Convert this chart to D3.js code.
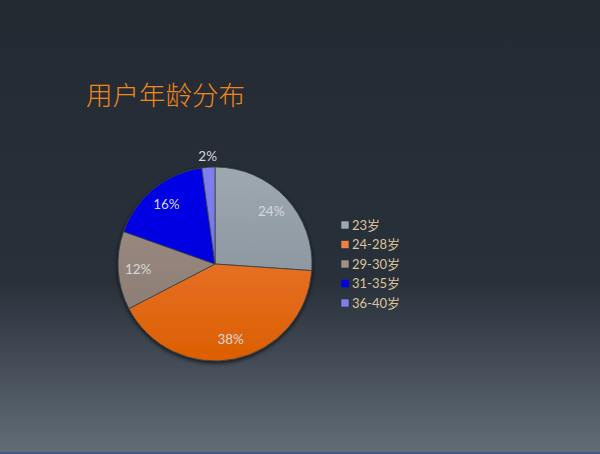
<!DOCTYPE html>
<html>
<head>
<meta charset="utf-8">
<script src="https://cdn.jsdelivr.net/npm/d3@7"></script>
<style>
  html, body { margin: 0; padding: 0; background: #232a32; }
  svg { display: block; }
</style>
</head>
<body>
<svg id="chart" width="600" height="454"></svg>
<script>
// data
var title = "用户年龄分布";
var categories = ["23岁", "24-28岁", "29-30岁", "31-35岁", "36-40岁"];
var values = [24, 38, 12, 16, 2];
var colorsTop = ["#9ea8b1", "#ef8048", "#a09086", "#0000e6", "#7f7fee"];
var colorsBottom = ["#7e8a94", "#dc5f00", "#877870", "#0000d8", "#6c6ce0"];

var svg = d3.select("#chart"),
    width = 600,
    height = 454;

var defs = svg.append("defs");

// background gradient: flat dark top, lightening from about two thirds down
var bg = defs.append("linearGradient")
    .attr("id", "bg")
    .attr("x1", 0).attr("y1", 0).attr("x2", 0).attr("y2", 1);
bg.append("stop").attr("offset", "0%").attr("stop-color", "#232a32");
bg.append("stop").attr("offset", "62%").attr("stop-color", "#28303a");
bg.append("stop").attr("offset", "100%").attr("stop-color", "#636d77");

svg.append("rect")
    .attr("width", width)
    .attr("height", height)
    .attr("fill", "url(#bg)");

svg.append("rect")
    .attr("x", 0).attr("y", height - 2)
    .attr("width", width).attr("height", 2)
    .attr("fill", "#3e5c84");

// title
svg.append("text")
    .attr("x", 86)
    .attr("y", 105)
    .attr("fill", "#f0871c")
    .attr("font-family", "'Noto Sans CJK SC', sans-serif")
    .attr("font-weight", 300)
    .attr("font-size", "26.5px")
    .text(title);

// slice gradients
categories.forEach(function (c, i) {
  var gr = defs.append("linearGradient")
      .attr("id", "slice" + i)
      .attr("gradientUnits", "userSpaceOnUse")
      .attr("x1", 0).attr("y1", -97).attr("x2", 0).attr("y2", 97);
  gr.append("stop").attr("offset", "0%").attr("stop-color", colorsTop[i]);
  gr.append("stop").attr("offset", "100%").attr("stop-color", colorsBottom[i]);
});

var shadow = defs.append("filter")
    .attr("id", "shadow")
    .attr("x", "-20%").attr("y", "-20%")
    .attr("width", "140%").attr("height", "140%");
shadow.append("feDropShadow")
    .attr("dx", 0).attr("dy", 2)
    .attr("stdDeviation", 2)
    .attr("flood-color", "#000")
    .attr("flood-opacity", 0.7);

var radius = 97;
var g = svg.append("g")
    .attr("transform", "translate(215,264)");

var pie = d3.pie().sort(null).value(function (d) { return d; });
var arcs = pie(values);
var arc = d3.arc().innerRadius(0).outerRadius(radius);

g.append("g")
    .attr("filter", "url(#shadow)")
    .selectAll("path")
    .data(arcs)
    .enter()
    .append("path")
    .attr("d", arc)
    .attr("fill", function (d, i) { return "url(#slice" + i + ")"; })
    .attr("stroke", "#3a3f44")
    .attr("stroke-width", 0.8);

// value labels, the thin slice gets its label outside
var labelArc = d3.arc().innerRadius(77).outerRadius(77);
var outerArc = d3.arc().innerRadius(108).outerRadius(108);

g.selectAll(".bar-label")
    .data(arcs)
    .enter()
    .append("text")
    .attr("class", "bar-label")
    .attr("transform", function (d) {
      var c = (d.endAngle - d.startAngle) < 0.3 ? outerArc.centroid(d) : labelArc.centroid(d);
      return "translate(" + c + ")";
    })
    .attr("text-anchor", "middle")
    .attr("dy", "0.35em")
    .attr("fill", "#d6d8da")
    .attr("font-family", "Lato, sans-serif")
    .attr("font-size", "13.5px")
    .text(function (d) { return d.data + "%"; });

// legend
var legend = svg.append("g")
    .attr("transform", "translate(341,225)");

var rows = legend.selectAll(".row")
    .data(categories)
    .enter()
    .append("g")
    .attr("class", "row")
    .attr("transform", function (d, i) { return "translate(0," + (i * 19.5) + ")"; });

rows.append("rect")
    .attr("x", 0).attr("y", -4)
    .attr("width", 8).attr("height", 8)
    .attr("fill", function (d, i) { return colorsTop[i]; })
    .attr("stroke", "#2a2f35")
    .attr("stroke-width", 0.6);

rows.append("text")
    .attr("x", 11)
    .attr("dy", "0.35em")
    .attr("fill", "#dcc39c")
    .attr("font-family", "Lato, 'Noto Sans CJK SC', sans-serif")
    .attr("font-size", "13px")
    .text(function (d) { return d; });
</script>
</body>
</html>
